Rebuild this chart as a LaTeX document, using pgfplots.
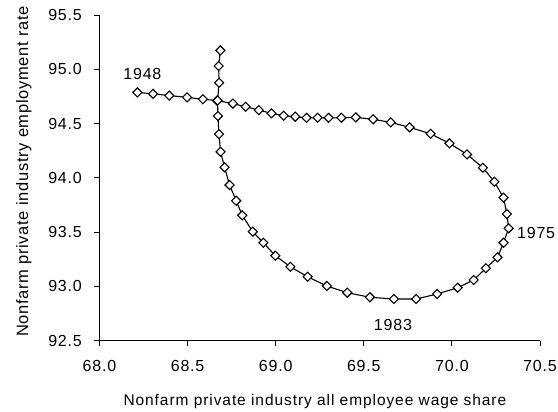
\documentclass[border=0pt]{standalone}
\usepackage{fontspec}
\setmainfont{Liberation Sans}
\newfontfamily\xlabfont[LetterSpace=6]{Liberation Sans}
\newfontfamily\ylabfont[LetterSpace=4]{Liberation Sans}
\newfontfamily\tickfont[LetterSpace=5]{Liberation Sans}
\usepackage{pgfplots}
\pgfplotsset{compat=1.18}

\begin{document}
\begin{tikzpicture}[x=1pt,y=1pt]
\begin{axis}[
  at={(99.5pt,71.3pt)}, anchor=south west,
  scale only axis, width=440.5pt, height=325.7pt,
  xmin=68, xmax=70.5, ymin=92.5, ymax=95.5,
  axis x line*=bottom, axis y line*=left,
  axis line style={line width=0.9pt, black, -},
  xtick={68,68.5,69,69.5,70,70.5},
  ytick={92.5,93,93.5,94,94.5,95,95.5},
  tick align=outside, major tick length=5pt,
  tick style={line width=0.9pt, black},
  every tick label/.append style={font=\tickfont\fontsize{16}{19}\selectfont, inner sep=0pt},
  xticklabel style={anchor=north, yshift=-14.3pt, /pgf/number format/fixed, /pgf/number format/fixed zerofill, /pgf/number format/precision=1, /pgf/number format/assume math mode=true},
  yticklabel style={anchor=east, xshift=-12.5pt, /pgf/number format/fixed, /pgf/number format/fixed zerofill, /pgf/number format/precision=1, /pgf/number format/assume math mode=true},
  xlabel={\xlabfont\fontsize{15.5}{18}\selectfont Nonfarm private industry all employee wage share},
  xlabel style={at={(axis description cs:0.489,0)}, anchor=base, inner sep=0pt, yshift=-65.3pt},
  ylabel={\ylabfont\fontsize{16.5}{19}\selectfont Nonfarm private industry employment rate},
  ylabel style={at={(axis description cs:-0.1623,0.0114)}, anchor=base west, rotate=0, inner sep=0pt},
  clip=false,
]
\addplot[black, line width=1.1pt, mark=square*, mark size=3.2pt,
  mark options={rotate=45, fill=white, line width=1.1pt, solid}] coordinates {
(68.215,94.787) (68.304,94.774) (68.396,94.758) (68.497,94.741) (68.587,94.724)
(68.667,94.712) (68.757,94.684) (68.829,94.655) (68.904,94.624) (68.976,94.594)
(69.045,94.572) (69.111,94.563) (69.175,94.553) (69.238,94.553) (69.300,94.553)
(69.373,94.553) (69.455,94.557) (69.553,94.539) (69.653,94.511) (69.760,94.465)
(69.879,94.406) (69.986,94.318) (70.086,94.216) (70.176,94.093) (70.241,93.964)
(70.293,93.817) (70.312,93.667) (70.322,93.535) (70.293,93.402) (70.259,93.268)
(70.193,93.167) (70.123,93.059) (70.033,92.988) (69.916,92.930) (69.797,92.884)
(69.671,92.884) (69.535,92.900) (69.406,92.942) (69.290,93.004) (69.181,93.089)
(69.083,93.181) (68.998,93.283) (68.930,93.402) (68.870,93.504) (68.810,93.655)
(68.776,93.789) (68.738,93.934) (68.710,94.097) (68.687,94.240) (68.678,94.403)
(68.672,94.569) (68.670,94.712) (68.679,94.876) (68.676,95.030) (68.686,95.174)
};
\node[anchor=south, inner sep=0pt, xshift=5pt, yshift=13pt, font=\tickfont\fontsize{16}{19}\selectfont] at (axis cs:68.215,94.787) {1948};
\node[anchor=west, inner sep=0pt, xshift=8.3pt, yshift=-4.7pt, font=\tickfont\fontsize{16}{19}\selectfont] at (axis cs:70.322,93.535) {1975};
\node[anchor=north, inner sep=0pt, xshift=-1pt, yshift=-20.3pt, font=\tickfont\fontsize{16}{19}\selectfont] at (axis cs:69.671,92.884) {1983};
\end{axis}
\pgfresetboundingbox
\path (0,0) rectangle (558,412);
\end{tikzpicture}
\end{document}
